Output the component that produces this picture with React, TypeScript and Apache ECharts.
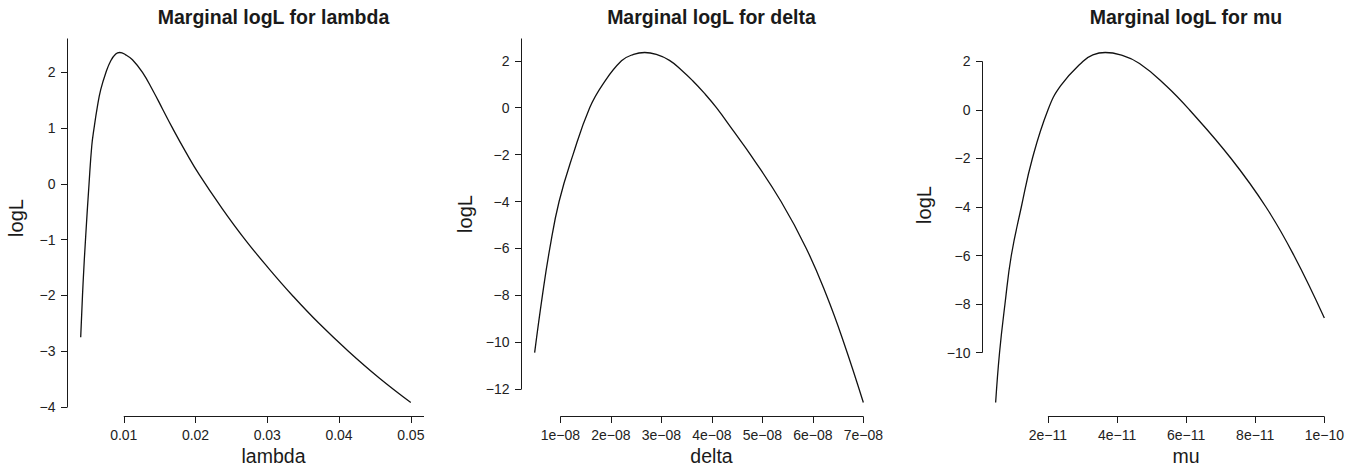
import React, { useEffect, useRef } from "react";
import * as echarts from "echarts";

// ---- data ----
const lambdaX = [0.004, 0.00433, 0.0047, 0.00516, 0.00554, 0.00586, 0.00633, 0.00679, 0.00749, 0.00819, 0.00888, 0.00944, 0.01028, 0.01121, 0.01261, 0.014, 0.0154, 0.0168, 0.01865, 0.0205, 0.0236, 0.0268, 0.0301, 0.0335, 0.0372, 0.0413, 0.0456, 0.05];
const lambdaY = [-2.75, -1.78, -0.93, 0.0, 0.68, 1.0, 1.39, 1.69, 1.99, 2.21, 2.33, 2.357, 2.315, 2.226, 2.0, 1.69, 1.345, 1.0, 0.57, 0.17, -0.42, -0.98, -1.5, -2.0, -2.5, -3.0, -3.48, -3.92];

const deltaX = [0.49e-8, 0.644e-8, 0.79e-8, 0.974e-8, 1.25e-8, 1.58e-8, 1.84e-8, 2.21e-8, 2.45e-8, 2.67e-8, 2.9e-8, 3.16e-8, 3.4e-8, 3.62e-8, 3.85e-8, 4.09e-8, 4.43e-8, 4.78e-8, 5.37e-8, 5.87e-8, 6.27e-8, 6.61e-8, 7.0e-8];
const deltaY = [-10.44, -8, -6, -4, -2, 0, 1, 2, 2.275, 2.355, 2.27, 2.02, 1.6, 1.15, 0.62, 0.0, -1.0, -2.05, -4, -6, -8, -10, -12.57];

const muX = [0.487e-11, 0.6e-11, 0.757e-11, 0.94e-11, 1.23e-11, 1.55e-11, 2.0e-11, 2.37e-11, 3.01e-11, 3.3e-11, 3.66e-11, 4.1e-11, 4.65e-11, 5.42e-11, 6.1e-11, 7.3e-11, 8.31e-11, 9.12e-11, 10.0e-11];
const muY = [-12.06, -10, -8, -6, -4, -2, 0, 1, 2, 2.27, 2.37, 2.27, 1.92, 1, 0, -2, -4, -6, -8.58];

const lambdaXTicks = [0.01, 0.02, 0.03, 0.04, 0.05];
const lambdaYTicks = [-4, -3, -2, -1, 0, 1, 2];
const deltaXTicks = [1e-8, 2e-8, 3e-8, 4e-8, 5e-8, 6e-8, 7e-8];
const deltaYTicks = [-12, -10, -8, -6, -4, -2, 0, 2];
const muXTicks = [2e-11, 4e-11, 6e-11, 8e-11, 1e-10];
const muYTicks = [-10, -8, -6, -4, -2, 0, 2];

const titles = ["Marginal logL for lambda", "Marginal logL for delta", "Marginal logL for mu"];
const xNames = ["lambda", "delta", "mu"];
const yName = "logL";

const FONT = "'Liberation Sans', Arial, Helvetica, sans-serif";
const INK = "#1a1a1a";

const minus = (s: string) => s.replace(/-/g, "\u2212");
const fmtFixed = (v: number) => minus(v.toFixed(2));
const fmtInt = (v: number) => minus(String(Math.round(v)));
const fmtSci = (v: number) => {
  const [m, e] = v.toExponential(0).split("e");
  const neg = e[0] === "-";
  const digits = e.replace(/[+-]/, "").padStart(2, "0");
  return minus(`${m}e${neg ? "-" : ""}${digits}`);
};

const padExtent = (arr: number[]) => {
  const lo = Math.min(...arr);
  const hi = Math.max(...arr);
  const r = hi - lo;
  return [lo - 0.04 * r, hi + 0.04 * r];
};

type Panel = {
  xs: number[];
  ys: number[];
  xTicks: number[];
  yTicks: number[];
  xFmt: (v: number) => string;
  left: number;
  width: number;
  xLineToEdge: boolean;
  yLineToEdge: boolean;
  titleX: number;
  yNameX: number;
  yNameY: number;
};

const panels: Panel[] = [
  { xs: lambdaX, ys: lambdaY, xTicks: lambdaXTicks, yTicks: lambdaYTicks, xFmt: fmtFixed, left: 67.5, width: 356.5, xLineToEdge: true, yLineToEdge: true, titleX: 273.5, yNameX: 16, yNameY: 218 },
  { xs: deltaX, ys: deltaY, xTicks: deltaXTicks, yTicks: deltaYTicks, xFmt: fmtSci, left: 521.5, width: 355, xLineToEdge: false, yLineToEdge: true, titleX: 711.5, yNameX: 465, yNameY: 214 },
  { xs: muX, ys: muY, xTicks: muXTicks, yTicks: muYTicks, xFmt: fmtSci, left: 982.5, width: 355, xLineToEdge: false, yLineToEdge: false, titleX: 1186, yNameX: 924, yNameY: 205 },
];

const TOP = 38.5;
const HEIGHT = 378;

export default function App() {
  const ref = useRef<HTMLDivElement>(null);
  useEffect(() => {
    if (!ref.current) return;
    const chart = echarts.init(ref.current, undefined, { renderer: "svg" });

    const grid: any[] = [];
    const xAxis: any[] = [];
    const yAxis: any[] = [];
    const series: any[] = [];
    const graphic: any[] = [];

    panels.forEach((p, i) => {
      const [xmin, xmax] = padExtent(p.xs);
      const [ymin, ymax] = padExtent(p.ys);
      grid.push({ left: p.left, top: TOP, width: p.width, height: HEIGHT, containLabel: false });
      xAxis.push({
        type: "value",
        gridIndex: i,
        min: xmin,
        max: xmax,
        position: "bottom",
        axisLine: { show: false, onZero: false },
        splitLine: { show: false },
        axisTick: { show: true, customValues: p.xTicks, length: 6.5, lineStyle: { color: INK, width: 1 } },
        axisLabel: { show: true, customValues: p.xTicks, formatter: (v: number) => p.xFmt(v), margin: 11, fontSize: 14, color: "#222", fontFamily: FONT },
      });
      yAxis.push({
        type: "value",
        gridIndex: i,
        min: ymin,
        max: ymax,
        position: "left",
        axisLine: { show: false, onZero: false },
        splitLine: { show: false },
        axisTick: { show: true, customValues: p.yTicks, length: 6.5, lineStyle: { color: INK, width: 1 } },
        axisLabel: { show: true, customValues: p.yTicks, formatter: (v: number) => fmtInt(v), margin: 12, fontSize: 14, color: "#222", fontFamily: FONT },
      });
      series.push({
        type: "line",
        xAxisIndex: i,
        yAxisIndex: i,
        data: p.xs.map((x, k) => [x, p.ys[k]]),
        showSymbol: false,
        symbol: "none",
        smooth: 0.45,
        lineStyle: { color: "#111", width: 1.3 },
        silent: true,
      });
      // R-style detached axis lines
      const xEnd = p.xLineToEdge ? xmax : p.xTicks[p.xTicks.length - 1];
      series.push({
        type: "line",
        xAxisIndex: i,
        yAxisIndex: i,
        data: [[p.xTicks[0], ymin], [xEnd, ymin]],
        symbol: "none",
        clip: false,
        lineStyle: { color: INK, width: 1 },
        silent: true,
      });
      const yEnd = p.yLineToEdge ? ymax : p.yTicks[p.yTicks.length - 1];
      series.push({
        type: "line",
        xAxisIndex: i,
        yAxisIndex: i,
        data: [[xmin, p.yTicks[0]], [xmin, yEnd]],
        symbol: "none",
        clip: false,
        lineStyle: { color: INK, width: 1 },
        silent: true,
      });
      graphic.push({
        type: "text",
        x: p.titleX,
        y: 17,
        style: { text: titles[i], font: `bold 19.5px ${FONT}`, fill: "#1a1a1a", textAlign: "center", textVerticalAlign: "middle" },
      });
      graphic.push({
        type: "text",
        x: p.titleX,
        y: 456,
        style: { text: xNames[i], font: `19.5px ${FONT}`, fill: "#1a1a1a", textAlign: "center", textVerticalAlign: "middle" },
      });
      graphic.push({
        type: "text",
        x: p.yNameX,
        y: p.yNameY,
        rotation: Math.PI / 2,
        style: { text: yName, font: `20px ${FONT}`, fill: "#1a1a1a", textAlign: "center", textVerticalAlign: "middle" },
      });
    });

    chart.setOption({
      animation: false,
      backgroundColor: "#ffffff",
      grid,
      xAxis,
      yAxis,
      series,
      graphic,
    });
    return () => chart.dispose();
  }, []);
  return <div ref={ref} style={{ position: "fixed", left: 0, top: 0, width: 1359, height: 473 }} />;
}
